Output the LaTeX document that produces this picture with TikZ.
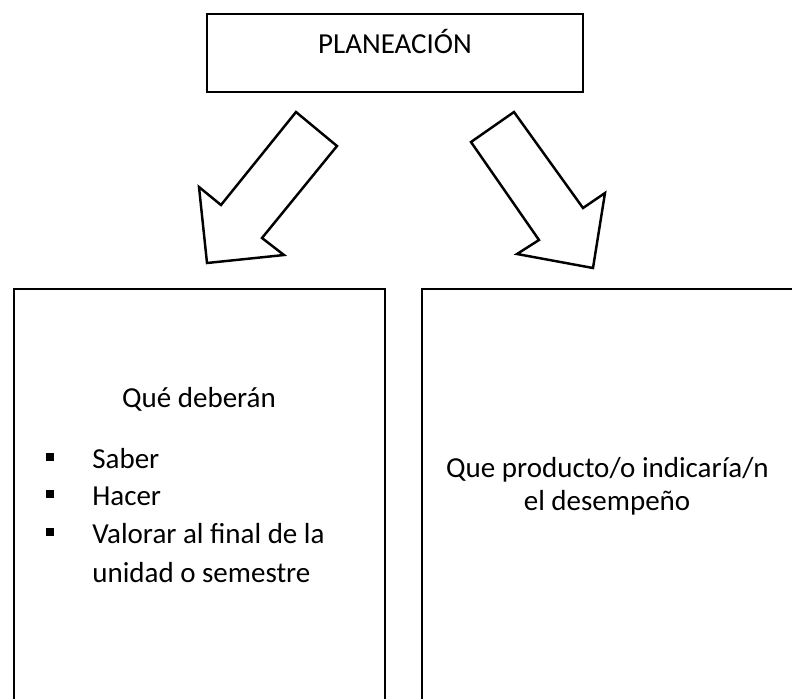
\documentclass[tikz,border=0pt]{standalone}
\usepackage{fontspec}
\setmainfont{Carlito}
\usetikzlibrary{positioning}
\tikzset{
    Box/.style = {draw,line width=1.4pt,inner sep=0pt},
    Txt/.style = {inner sep=0pt,anchor=base,font=\fontsize{16.5pt}{19pt}\selectfont},
    Bullet/.style = {fill,inner sep=0pt,minimum size=0.15cm},
    BlockArrow/.style = {draw,line width=1.4pt,line join=miter,fill=white}
}

\begin{document}
\begin{tikzpicture}[x=0.02cm,y=-0.02cm]
        \useasboundingbox (0,0) rectangle (792,698);
        \clip (0,0) rectangle (792,698);
        % boxes
        \node[Box,minimum width=7.52cm,minimum height=1.56cm] (plan) at (395,53) {};
        \node[Box,minimum width=7.42cm,minimum height=9.42cm] (saber) at (199.5,524.5) {};
        \node[Box,minimum width=8.16cm,minimum height=9.42cm] (prod) at (626,524.5) {};
        % block arrows
        \draw[BlockArrow] (296,112) -- (337,146) -- (262,238) -- (284,255)
              -- (207,263) -- (199,187) -- (221,205) -- cycle;
        \draw[BlockArrow] (514,112) -- (471,142) -- (539,240) -- (517,254)
              -- (593,268) -- (605,193) -- (583,208) -- cycle;
        % texts
        \node[Txt] (planlbl) at (395,53) {PLANEACIÓN};
        \node[Txt] (qdeb) at (199,407) {Qué deberán};
        \foreach \y/\t [count=\i] in {468/Saber,505/Hacer,543/{Valorar al final de la}}
            {\node[Bullet] (bul\i) at (50,\y-11) {};
             \node[Txt,anchor=base west] (item\i) at (92,\y) {\t};}
        \node[Txt,anchor=base west] (item4) at (92,582) {unidad o semestre};
        \node[Txt] (prod1) at (607.5,477) {Que producto/o indicaría/n};
        \node[Txt] (prod2) at (607,510) {el desempeño};
\end{tikzpicture}
\end{document}
